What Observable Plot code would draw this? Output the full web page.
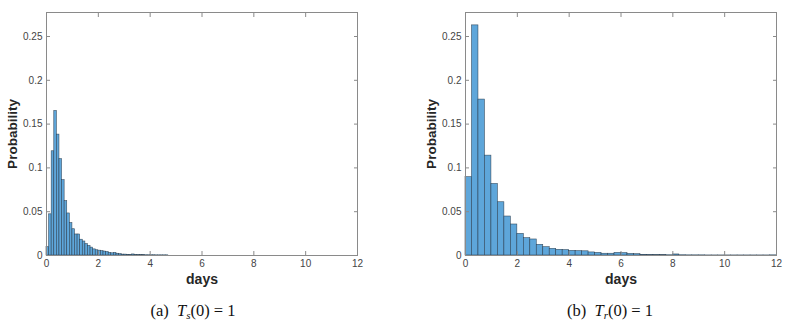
<!DOCTYPE html>
<html>
<head>
<meta charset="utf-8">
<script src="https://cdn.jsdelivr.net/npm/d3@7"></script>
<script src="https://cdn.jsdelivr.net/npm/@observablehq/plot@0.6"></script>
<style>
  html, body { margin: 0; padding: 0; background: #fff; }
  #wrap { position: relative; width: 791px; height: 326px; background: #fff; overflow: hidden; }
  .panel { position: absolute; top: 0; }
  .caption { position: absolute; top: 301px; font-family: "Liberation Serif", "Times New Roman", serif; font-size: 16.5px; color: #111; white-space: nowrap; transform: translateX(-50%); }
  .caption sub { font-size: 11px; vertical-align: -3px; }
</style>
</head>
<body>
<div id="wrap"></div>
<script>
// ---- data ----
const xTicks = [0, 2, 4, 6, 8, 10, 12];
const yTicks = [0, 0.05, 0.1, 0.15, 0.2, 0.25];
const yTickLabels = ["0", "0.05", "0.1", "0.15", "0.2", "0.25"];
const xTickLabels = ["0", "2", "4", "6", "8", "10", "12"];

// (a) T_s(0)=1 : bin width 0.1 day
const binWidthA = 0.1;
const probA = [
  0.0095, 0.047, 0.119, 0.165, 0.138, 0.110, 0.086, 0.062, 0.048, 0.037,
  0.030, 0.024, 0.024, 0.018, 0.016, 0.013, 0.011, 0.009, 0.007, 0.006,
  0.0055, 0.005, 0.0045, 0.004, 0.003, 0.0025, 0.003, 0.002, 0.0015, 0.001,
  0.001, 0.0008, 0.0006, 0.0012, 0.0005, 0.0005, 0.0004, 0.0004, 0.0003, 0.0003,
  0.0003, 0.0003, 0.0002, 0.0002, 0.0002, 0.0002, 0.0002
];

// (b) T_r(0)=1 : bin width 0.25 day
const binWidthB = 0.25;
const probB = [
  0.0894, 0.2627, 0.178, 0.114, 0.0817, 0.0608, 0.0445, 0.0354,
  0.0247, 0.0198, 0.0183, 0.0122, 0.0095, 0.0076, 0.0065, 0.0062,
  0.0053, 0.005, 0.0048, 0.0035, 0.003, 0.002, 0.002, 0.003,
  0.0027, 0.0018, 0.0015, 0.0008, 0.0006, 0.0005, 0.0004, 0.0003,
  0.0012, 0.0003, 0.0002, 0.0002, 0.0002, 0.0001, 0.0001, 0.0001,
  0.0001, 0.0001, 0.0001, 0.0001, 0.0001, 0.0001, 0.0001, 0.0002
];

const captions = [
  {label: "(a)", sub: "s"},
  {label: "(b)", sub: "r"}
];

// ---- drawing ----
const FONT = "'Liberation Sans', Arial, Helvetica, sans-serif";
const fmt = d => yTickLabels[yTicks.findIndex(t => Math.abs(t - d) < 1e-9)];
const fmtX = d => xTickLabels[xTicks.indexOf(d)];

function panel(probs, bw, {left, width, marginLeft, marginRight}) {
  const bins = probs.map((p, i) => ({x1: i * bw, x2: (i + 1) * bw, p}));
  const chart = Plot.plot({
    width, height: 280,
    marginLeft, marginRight, marginTop: 12, marginBottom: 25,
    style: {fontFamily: FONT, background: "transparent", overflow: "visible"},
    x: {domain: [0, 12], axis: null},
    y: {domain: [0, 0.2774], axis: null},
    marks: [
      Plot.rectY(bins, {x1: "x1", x2: "x2", y: "p", fill: "#5ea6da", stroke: "#26384a", strokeWidth: 0.6, strokeOpacity: 0.85}),
      Plot.frame({stroke: "#8a8a8a", strokeWidth: 1}),
      // inward ticks on all four sides
      Plot.axisX(xTicks, {anchor: "bottom", tickSize: -4, tickFormat: () => "", label: null, stroke: "#8a8a8a"}),
      Plot.axisX(xTicks, {anchor: "top", tickSize: -4, tickFormat: () => "", label: null, stroke: "#8a8a8a"}),
      Plot.axisY(yTicks, {anchor: "left", tickSize: -4, tickFormat: () => "", label: null, stroke: "#8a8a8a"}),
      Plot.axisY(yTicks, {anchor: "right", tickSize: -4, tickFormat: () => "", label: null, stroke: "#8a8a8a"}),
      // tick labels
      Plot.axisX(xTicks, {anchor: "bottom", tickSize: 0, tickPadding: 4, tickFormat: fmtX, label: null, fontSize: 10, fill: "#444"}),
      Plot.axisY(yTicks, {anchor: "left", tickSize: 0, tickPadding: 4, tickFormat: fmt, label: null, fontSize: 10, fill: "#444"}),
      // axis titles
      Plot.text(["days"], {frameAnchor: "bottom", dy: 28, fontSize: 14, fontWeight: "bold", fill: "#262626"}),
      Plot.text(["Probability"], {frameAnchor: "left", textAnchor: "middle", dx: -34, rotate: -90, fontSize: 13.5, fontWeight: "bold", fill: "#262626"})
    ]
  });
  chart.classList.add("panel");
  chart.style.left = left + "px";
  return chart;
}

const wrap = document.getElementById("wrap");
wrap.appendChild(panel(probA, binWidthA, {left: 0, width: 395, marginLeft: 46, marginRight: 38}));
wrap.appendChild(panel(probB, binWidthB, {left: 400, width: 391, marginLeft: 65, marginRight: 15}));

const capPos = [193, 610];
captions.forEach((c, i) => {
  const d = document.createElement("div");
  d.className = "caption";
  d.style.left = capPos[i] + "px";
  d.innerHTML = `${c.label}&nbsp;&nbsp;<i>T<sub>${c.sub}</sub></i>(0) = 1`;
  wrap.appendChild(d);
});
</script>
</body>
</html>
